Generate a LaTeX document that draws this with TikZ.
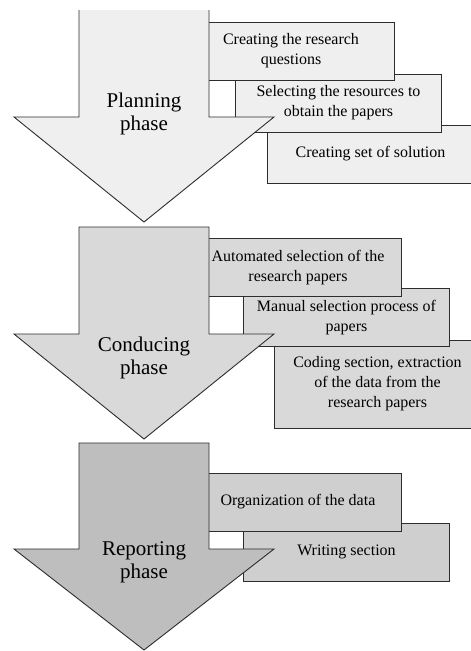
\documentclass[tikz,border=0pt]{standalone}
\usepackage{fontspec}
\setmainfont{Liberation Serif}
\usetikzlibrary{positioning}
\definecolor{PlanGray}{RGB}{239,239,239}
\definecolor{CondGray}{RGB}{217,217,217}
\definecolor{RepGray}{RGB}{190,190,190}
\definecolor{RepBox}{RGB}{207,207,207}
\definecolor{EdgeGray}{RGB}{45,45,45}
\tikzset{
  task/.style={draw=EdgeGray,line width=0.9pt,minimum width=206pt,minimum height=58pt,inner sep=2pt,align=center,font=\fontsize{16}{20}\selectfont},
  phase/.style={draw=EdgeGray,line width=0.9pt,line join=miter},
  plab/.style={align=center,font=\fontsize{21}{23}\selectfont},
}

\begin{document}
\begin{tikzpicture}[x=1pt,y=-1pt]
\clip (0,0) rectangle (471,651);
\fill[white] (0,0) rectangle (471,651);
% planning
\node[task,fill=PlanGray] (sol) at (370.5,154) {Creating set of solution};
\node[task,fill=PlanGray] (res) at (338.5,103) {Selecting the resources to\\obtain the papers};
\node[task,fill=PlanGray] (rq) at (291,51) {Creating the research\\questions};
\draw[phase,fill=PlanGray] (79,10) -- (79,117) -- (14,117) -- (144,222) -- (274,117) -- (209,117) -- (209,10);
\node[plab] (plan) at (144,114) {Planning\\phase};
% conducing
\node[task,fill=CondGray,minimum height=88pt] (cod) at (377.5,384) {Coding section, extraction\\of the data from the\\research papers};
\node[task,fill=CondGray] (man) at (346.5,317.5) {Manual selection process of\\papers};
\node[task,fill=CondGray] (aut) at (298,267.5) {Automated selection of the\\research papers};
\draw[phase,fill=CondGray] (79,227) -- (79,334) -- (14,334) -- (144,439) -- (274,334) -- (209,334) -- (209,227) -- cycle;
\node[plab] (cond) at (144,358) {Conducing\\phase};
% reporting
\node[task,fill=RepBox] (wri) at (346.5,552) {Writing section};
\node[task,fill=RepBox] (org) at (298,502) {Organization of the data};
\draw[phase,fill=RepGray] (79,443) -- (79,549) -- (14,549) -- (144,650) -- (274,549) -- (209,549) -- (209,443) -- cycle;
\node[plab] (rep) at (144,562) {Reporting\\phase};
\end{tikzpicture}
\end{document}
